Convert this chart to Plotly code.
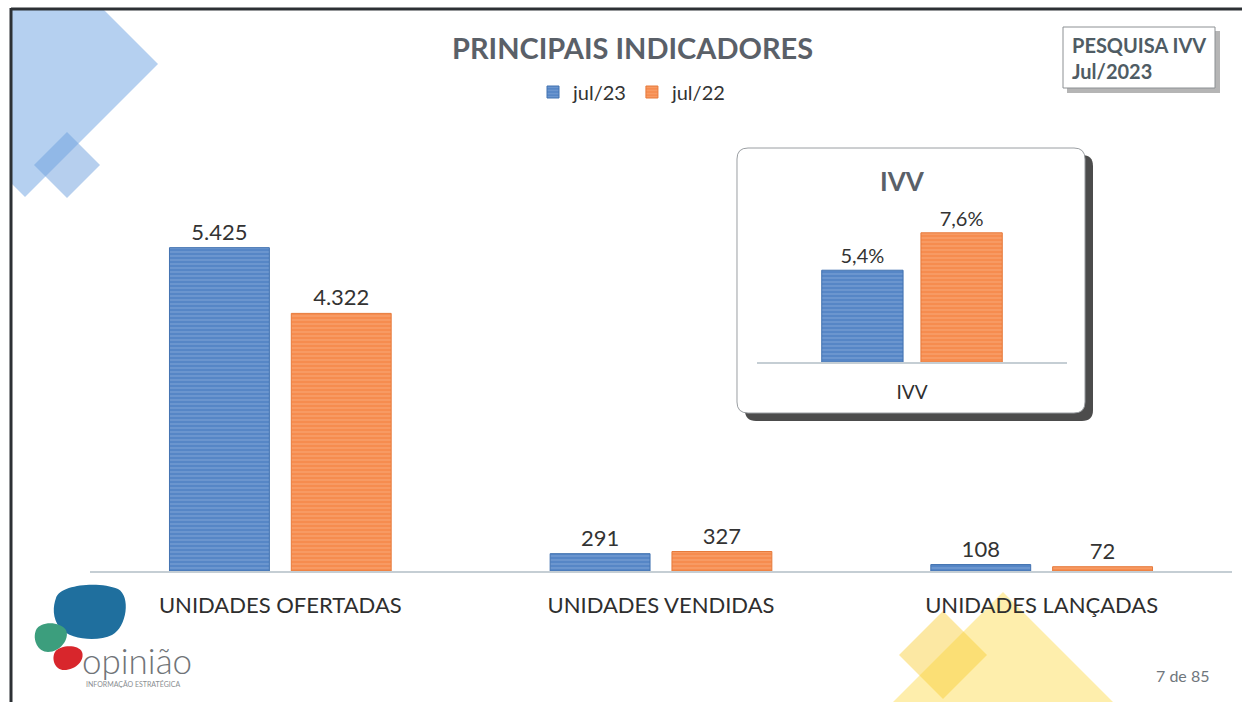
import plotly.graph_objects as go

W, H = 1248, 702

# ---- data ----
categories = ["UNIDADES OFERTADAS", "UNIDADES VENDIDAS", "UNIDADES LANÇADAS"]
jul23 = [5425, 291, 108]
jul22 = [4322, 327, 72]
ivv_cat = ["IVV"]
ivv_jul23 = [5.4]
ivv_jul22 = [7.6]
series_names = ["jul/23", "jul/22"]


def X(x):
    return x / W


def Y(y):
    return 1 - y / H


def P(cmds):
    out = []
    for c, pts in cmds:
        s = c
        s += " ".join(f"{X(x):.5f},{Y(y):.5f}" for x, y in pts)
        out.append(s)
    return " ".join(out)


def poly(pts):
    cmds = [("M", [pts[0]])] + [("L", [p]) for p in pts[1:]] + [("Z", [])]
    return P(cmds)


def rrect(x0, y0, x1, y1, r):
    return P([
        ("M", [(x0 + r, y0)]), ("L", [(x1 - r, y0)]),
        ("Q", [(x1, y0), (x1, y0 + r)]), ("L", [(x1, y1 - r)]),
        ("Q", [(x1, y1), (x1 - r, y1)]), ("L", [(x0 + r, y1)]),
        ("Q", [(x0, y1), (x0, y1 - r)]), ("L", [(x0, y0 + r)]),
        ("Q", [(x0, y0), (x0 + r, y0)]), ("Z", []),
    ])


BLUE, BLUE_L, BLUE_D = "#5686c6", "#93b4df", "#4272b0"
ORNG, ORNG_L, ORNG_D = "#f68c4f", "#fab68c", "#e67a3b"
FONT = "Lato"

fig = go.Figure()


def bar_style(c, cl, cd):
    return dict(color=c, line=dict(color=cd, width=1),
                pattern=dict(shape="-", fillmode="overlay", fgcolor=cl,
                             fgopacity=0.55, size=4, solidity=0.3))


fig.add_trace(go.Bar(x=categories, y=jul23, name=series_names[0],
                     marker=bar_style(BLUE, BLUE_L, BLUE_D),
                     texttemplate="%{y:,}", textposition="outside",
                     textfont=dict(size=22, color="#333333", family=FONT),
                     cliponaxis=False))
fig.add_trace(go.Bar(x=categories, y=jul22, name=series_names[1],
                     marker=bar_style(ORNG, ORNG_L, ORNG_D),
                     texttemplate="%{y:,}", textposition="outside",
                     textfont=dict(size=22, color="#333333", family=FONT),
                     cliponaxis=False))
fig.add_trace(go.Bar(x=ivv_cat, y=ivv_jul23, name=series_names[0], showlegend=False,
                     marker=bar_style(BLUE, BLUE_L, BLUE_D),
                     texttemplate="%{y:.1f}%", textposition="outside",
                     textfont=dict(size=20, color="#333333", family=FONT),
                     xaxis="x2", yaxis="y2", cliponaxis=False))
fig.add_trace(go.Bar(x=ivv_cat, y=ivv_jul22, name=series_names[1], showlegend=False,
                     marker=bar_style(ORNG, ORNG_L, ORNG_D),
                     texttemplate="%{y:.1f}%", textposition="outside",
                     textfont=dict(size=20, color="#333333", family=FONT),
                     xaxis="x2", yaxis="y2", cliponaxis=False))

shapes = []
# decorative diamonds
shapes.append(dict(type="path", xref="paper", yref="paper", layer="below",
                   path=poly([(12, 10), (104, 10), (158, 64), (25, 197), (12, 184)]),
                   fillcolor="rgba(120,170,228,0.55)", line=dict(width=0)))
shapes.append(dict(type="path", xref="paper", yref="paper", layer="below",
                   path=poly([(67, 132), (100, 165), (67, 198), (34, 165)]),
                   fillcolor="rgba(110,160,222,0.5)", line=dict(width=0)))
shapes.append(dict(type="path", xref="paper", yref="paper", layer="below",
                   path=poly([(1003, 592), (1113, 702), (893, 702)]),
                   fillcolor="rgba(252,218,70,0.45)", line=dict(width=0)))
shapes.append(dict(type="path", xref="paper", yref="paper", layer="below",
                   path=poly([(943, 611), (987, 655), (943, 699), (899, 655)]),
                   fillcolor="rgba(248,205,50,0.45)", line=dict(width=0)))
# frame lines
shapes.append(dict(type="line", xref="paper", yref="paper", x0=X(11), y0=Y(9), x1=X(1242), y1=Y(9),
                   line=dict(color="#2c3034", width=3)))
shapes.append(dict(type="line", xref="paper", yref="paper", x0=X(11), y0=Y(8), x1=X(11), y1=Y(702),
                   line=dict(color="#2c3034", width=3)))
# PESQUISA box
shapes.append(dict(type="rect", xref="paper", yref="paper", layer="below",
                   x0=X(1067), y0=Y(31), x1=X(1220), y1=Y(93),
                   fillcolor="rgba(90,90,90,0.45)", line=dict(width=0)))
shapes.append(dict(type="rect", xref="paper", yref="paper", layer="below",
                   x0=X(1063), y0=Y(27), x1=X(1215), y1=Y(88),
                   fillcolor="white", line=dict(color="#8c9093", width=1)))
# inset box
shapes.append(dict(type="path", xref="paper", yref="paper", layer="below",
                   path=rrect(745, 155, 1093, 421, 11),
                   fillcolor="rgba(45,45,45,0.85)", line=dict(width=0)))
shapes.append(dict(type="path", xref="paper", yref="paper", layer="below",
                   path=rrect(737, 148, 1085, 413, 11),
                   fillcolor="white", line=dict(color="#9a9ea2", width=1)))
# logo blobs
shapes.append(dict(type="path", xref="paper", yref="paper",
                   path=P([("M", [(56, 598)]), ("C", [(60, 584), (100, 581), (118, 589)]),
                           ("C", [(131, 596), (127, 627), (112, 635)]),
                           ("C", [(98, 642), (70, 640), (60, 628)]),
                           ("C", [(52, 618), (53, 606), (56, 598)]), ("Z", [])]),
                   fillcolor="#1f6f9e", line=dict(width=0)))
shapes.append(dict(type="path", xref="paper", yref="paper",
                   path=P([("M", [(36, 630)]), ("C", [(40, 621), (60, 621), (66, 630)]),
                           ("C", [(70, 639), (60, 652), (48, 652)]),
                           ("C", [(38, 652), (32, 640), (36, 630)]), ("Z", [])]),
                   fillcolor="#3c9e7d", line=dict(width=0)))
shapes.append(dict(type="path", xref="paper", yref="paper",
                   path=P([("M", [(55, 652)]), ("C", [(60, 645), (78, 644), (82, 652)]),
                           ("C", [(85, 660), (76, 670), (64, 670)]),
                           ("C", [(55, 670), (51, 659), (55, 652)]), ("Z", [])]),
                   fillcolor="#d8262c", line=dict(width=0)))

annotations = [
    dict(text="<b>PRINCIPAIS INDICADORES</b>", x=X(632), y=Y(47), xref="paper", yref="paper",
         showarrow=False, font=dict(size=29, color="#5a6068", family=FONT),
         xanchor="center", yanchor="middle"),
    dict(text="<b>PESQUISA IVV<br>Jul/2023</b>", x=X(1070), y=Y(58), xref="paper", yref="paper",
         showarrow=False, align="left", font=dict(size=20, color="#4f5c64", family=FONT),
         xanchor="left", yanchor="middle"),
    dict(text="<b>IVV</b>", x=X(902), y=Y(181), xref="paper", yref="paper",
         showarrow=False, font=dict(size=26, color="#5a6068", family=FONT),
         xanchor="center", yanchor="middle"),
    dict(text="opinião", x=X(80), y=Y(660), xref="paper", yref="paper",
         showarrow=False, font=dict(size=35, color="#707478", family=FONT, weight=300),
         xanchor="left", yanchor="middle"),
    dict(text="INFORMAÇÃO ESTRATÉGICA", x=X(84), y=Y(684), xref="paper", yref="paper",
         showarrow=False, font=dict(size=7, color="#8a8e92", family=FONT),
         xanchor="left", yanchor="middle"),
    dict(text="7 de 85", x=X(1182), y=Y(675), xref="paper", yref="paper",
         showarrow=False, font=dict(size=16, color="#6f767c", family=FONT),
         xanchor="center", yanchor="middle"),
]

fig.update_layout(
    width=W, height=H, autosize=False,
    margin=dict(l=0, r=0, t=0, b=0),
    paper_bgcolor="white", plot_bgcolor="rgba(0,0,0,0)",
    separators=",.",
    barmode="group", bargap=0.36, bargroupgap=0.18,
    font=dict(family=FONT, color="#333333"),
    showlegend=True,
    legend=dict(orientation="h", x=X(632), y=Y(92), xanchor="center", yanchor="middle",
                font=dict(size=20, color="#333333", family=FONT),
                bgcolor="rgba(0,0,0,0)", itemwidth=30, traceorder="normal"),
    xaxis=dict(domain=[X(90), X(1232)], range=[-0.5, 2.5], showline=True,
               linecolor="#c5ced4", linewidth=1.5, ticks="", showgrid=False,
               tickfont=dict(size=22, color="#2e2e2e", family=FONT), ticklabelstandoff=14,
               fixedrange=True),
    yaxis=dict(domain=[Y(571), Y(90)], range=[0, 8070], visible=False, showgrid=False,
               fixedrange=True),
    xaxis2=dict(domain=[X(757), X(1067)], range=[-0.5, 0.5], anchor="y2", showline=True,
                linecolor="#c5ced4", linewidth=1.5, ticks="", showgrid=False,
                tickfont=dict(size=19, color="#2e2e2e", family=FONT), ticklabelstandoff=12,
                fixedrange=True),
    yaxis2=dict(domain=[Y(362), Y(200)], range=[0, 9.53], anchor="x2", visible=False,
                showgrid=False, fixedrange=True),
    shapes=shapes,
    annotations=annotations,
)

fig.write_html("out.html", config={"displayModeBar": False},
               post_script="document.body.style.margin='0';document.body.style.overflow='hidden';")
